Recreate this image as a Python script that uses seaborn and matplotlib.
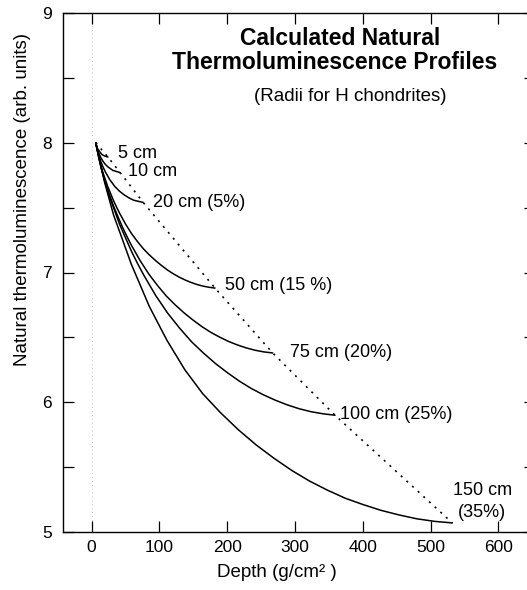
import matplotlib
matplotlib.use("Agg")
import matplotlib.pyplot as plt
from matplotlib.ticker import MultipleLocator
import seaborn as sns
import pandas as pd

# ---- data ----
radii_labels = ["5 cm", "10 cm", "20 cm (5%)", "50 cm (15 %)", "75 cm (20%)", "100 cm (25%)", "150 cm"]

depth_5 = [6, 8, 10, 12, 15, 19, 24]
tl_5 = [8.00, 7.96, 7.945, 7.93, 7.91, 7.898, 7.89]

depth_10 = [6, 7.8, 9.6, 13.2, 16.8, 20.4, 24, 31.2, 42]
tl_10 = [8.00, 7.959, 7.931, 7.888, 7.856, 7.832, 7.814, 7.787, 7.77]

depth_20 = [6, 9.5, 13, 16.5, 20, 27, 34, 41, 48, 55, 62, 76]
tl_20 = [8.00, 7.917, 7.862, 7.816, 7.777, 7.713, 7.664, 7.627, 7.598, 7.575, 7.557, 7.54]

depth_50 = [6, 10.4, 14.8, 19.2, 23.6, 28, 32.4, 36.8, 41.2, 50, 58.8, 67.6, 76.4, 85.2,
            94, 102.8, 111.6, 120.4, 129.2, 138, 146.8, 155.6, 164.4, 173.2, 182]
tl_50 = [8.0, 7.888, 7.798, 7.731, 7.664, 7.608, 7.552, 7.503, 7.457, 7.373, 7.30, 7.238,
         7.182, 7.135, 7.093, 7.055, 7.02, 6.99, 6.964, 6.942, 6.923, 6.907, 6.895, 6.886, 6.88]

depth_75 = [6, 12.5, 19.1, 25.6, 32.1, 38.6, 45.2, 51.7, 58.2, 71.3, 84.3, 97.4, 110.4,
            123.5, 136.5, 149.6, 162.6, 175.7, 188.7, 201.8, 214.8, 227.9, 240.9, 254, 267]
tl_75 = [8.0, 7.838, 7.708, 7.611, 7.514, 7.433, 7.352, 7.281, 7.214, 7.093, 6.988, 6.898,
         6.817, 6.749, 6.688, 6.633, 6.583, 6.539, 6.502, 6.469, 6.442, 6.419, 6.401, 6.388, 6.38]

depth_100 = [6, 14.8, 23.7, 32.5, 41.3, 50.1, 59, 67.8, 76.6, 94.3, 111.9, 129.6, 147.2,
             164.9, 182.5, 200.2, 217.8, 235.5, 253.1, 270.8, 288.4, 306.1, 323.7, 341.4, 359]
tl_100 = [8.0, 7.79, 7.622, 7.496, 7.37, 7.265, 7.16, 7.068, 6.982, 6.824, 6.688, 6.572,
          6.467, 6.379, 6.299, 6.228, 6.163, 6.106, 6.058, 6.016, 5.98, 5.95, 5.927, 5.911, 5.90]

depth_150 = [6, 19.2, 32.3, 45.5, 58.6, 71.8, 84.9, 98, 111.2, 137.5, 163.8, 190, 216.4,
             242.7, 269, 295.3, 321.6, 348, 374.2, 400.5, 426.8, 453, 479.4, 505.7, 532]
tl_150 = [8.0, 7.692, 7.443, 7.253, 7.062, 6.901, 6.74, 6.608, 6.476, 6.25, 6.066, 5.92,
          5.788, 5.671, 5.568, 5.474, 5.392, 5.322, 5.26, 5.211, 5.167, 5.132, 5.102, 5.082, 5.07]

# end-point (centre) locus, dotted
locus_depth = [6, 24, 42, 76, 182, 267, 359, 532]
locus_tl = [8.00, 7.89, 7.77, 7.54, 6.88, 6.38, 5.90, 5.07]

x_ticks = [0, 100, 200, 300, 400, 500, 600]
y_ticks = [5, 6, 7, 8, 9]

# ---- style ----
sns.set_style("ticks")
plt.rcParams["font.family"] = ["Liberation Sans", "DejaVu Sans"]
plt.rcParams["text.color"] = "black"
plt.rcParams["axes.labelcolor"] = "black"
plt.rcParams["xtick.color"] = "black"
plt.rcParams["ytick.color"] = "black"
plt.rcParams["axes.edgecolor"] = "black"

fig = plt.figure(figsize=(5.27, 5.90), dpi=100)
ax = fig.add_axes([63 / 527, 58 / 590, 472 / 527, 519 / 590])

curves = [
    (depth_5, tl_5), (depth_10, tl_10), (depth_20, tl_20), (depth_50, tl_50),
    (depth_75, tl_75), (depth_100, tl_100), (depth_150, tl_150),
]
for d, t in curves:
    df = pd.DataFrame({"depth": d, "tl": t})
    sns.lineplot(data=df, x="depth", y="tl", ax=ax, color="black", lw=1.1,
                 estimator=None, sort=False)

df_locus = pd.DataFrame({"depth": locus_depth, "tl": locus_tl})
sns.lineplot(data=df_locus, x="depth", y="tl", ax=ax, color="black", lw=1.2,
             estimator=None, sort=False, linestyle=(0, (1.2, 3.4)))

ax.axvline(0, color="#c8c8c8", lw=0.7, linestyle=(0, (1, 3)), zorder=0)

ax.set_xlim(-42.3, 654)
ax.set_ylim(5, 9)
ax.set_xticks(x_ticks)
ax.set_yticks(y_ticks)
ax.yaxis.set_minor_locator(MultipleLocator(0.5))
ax.tick_params(axis="both", which="both", direction="in", length=8, width=0.9,
               top=True, right=True, labelsize=12.5, color="black", labelcolor="black")
ax.tick_params(axis="x", pad=6)
ax.tick_params(axis="y", pad=8)
for s in ax.spines.values():
    s.set_linewidth(1.0)
    s.set_color("black")

ax.set_xlabel("Depth (g/cm² )", fontsize=13.5, color="black")
ax.xaxis.set_label_coords(0.453, -0.062)
ax.set_ylabel("Natural thermoluminescence (arb. units)", fontsize=13.5, color="black")
ax.yaxis.set_label_coords(-0.068, 0.64)

# labels for curves
ax.text(38.8, 7.921, radii_labels[0], fontsize=13, va="center", ha="left")
ax.text(53.5, 7.775, radii_labels[1], fontsize=13, va="center", ha="left")
ax.text(90.4, 7.543, radii_labels[2], fontsize=13, va="center", ha="left")
ax.text(197, 6.896, radii_labels[3], fontsize=13, va="center", ha="left")
ax.text(292.5, 6.387, radii_labels[4], fontsize=13, va="center", ha="left")
ax.text(366, 5.909, radii_labels[5], fontsize=13, va="center", ha="left")
ax.text(533, 5.316, radii_labels[6], fontsize=13, va="center", ha="left")
ax.text(540, 5.154, "(35%)", fontsize=13, va="center", ha="left")

ax.text(366, 8.807, "Calculated Natural", fontsize=16.5, fontweight="bold",
        ha="center", va="center")
ax.text(358, 8.615, "Thermoluminescence Profiles", fontsize=16.5, fontweight="bold",
        ha="center", va="center")
ax.text(381, 8.353, "(Radii for H chondrites)", fontsize=13.5, ha="center", va="center")

fig.savefig("out.png", dpi=100)
